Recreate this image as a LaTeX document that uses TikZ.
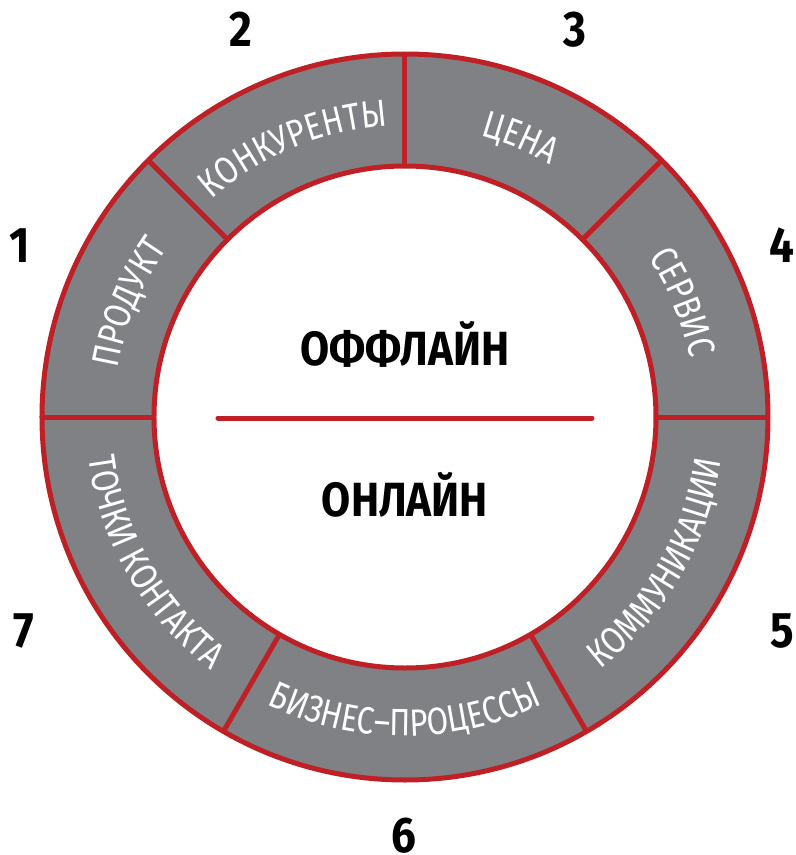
\documentclass[tikz,border=0pt]{standalone}
\usepackage{fontspec}
\setmainfont{Fira Sans}[FakeStretch=0.88]
\newfontfamily\segfont{Fira Sans}[FakeStretch=0.82]
\usetikzlibrary{decorations.text}
\definecolor{ringred}{RGB}{190,32,38}
\definecolor{ringgray}{RGB}{128,129,133}
\begin{document}
\begin{tikzpicture}[x=1pt,y=1pt,
  segline/.style={ringred, line width=5pt},
  num/.style={font=\fontsize{50}{50}\selectfont\bfseries, text=black, inner sep=0pt, anchor=base},
  bigtext/.style={font=\fontsize{48}{48}\selectfont\bfseries, text=black, inner sep=0pt, anchor=base},
  curvtext/.style={decorate, decoration={text along path, text align=center, text color=white,
     text={|\segfont\fontsize{38}{38}\selectfont|#1}}}]
\useasboundingbox (-405,-438) rectangle (391,417);
% ring
\fill[ringgray, even odd rule] (0,0) circle[radius=363] (0,0) circle[radius=251];
\foreach \a in {90,45,0,-60,-120,180,135} \draw[segline] (\a:251) -- (\a:363);
\draw[segline] (0,0) circle[radius=363];
\draw[segline] (0,0) circle[radius=251];
% segment labels (upper half: clockwise, tops outward)
\path[curvtext=ПРОДУКТ] (180:291) arc[start angle=180, end angle=135, radius=291];
\path[curvtext=КОНКУРЕНТЫ] (135:291) arc[start angle=135, end angle=90, radius=291];
\path[curvtext=ЦЕНА] (90:291) arc[start angle=90, end angle=45, radius=291];
\path[curvtext=СЕРВИС] (45:291) arc[start angle=45, end angle=0, radius=291];
% lower half: counterclockwise, tops inward
\path[curvtext=ТОЧКИ КОНТАКТА] (180:319) arc[start angle=180, end angle=240, radius=319];
\path[curvtext=БИЗНЕС–ПРОЦЕССЫ] (240:319) arc[start angle=240, end angle=300, radius=319];
\path[curvtext=КОММУНИКАЦИИ] (300:319) arc[start angle=300, end angle=360, radius=319];
% centre
\node[bigtext] (off) at (0,52) {ОФФЛАЙН};
\node[bigtext] (on) at (0,-99) {ОНЛАЙН};
\coordinate (la) at (-187,-1);
\coordinate (lb) at (187,-1);
\draw[ringred, line width=5pt, line cap=round] (la) -- (lb);
% numbers
\node[num] (n1) at (-385,155) {1};
\node[num] (n2) at (-164,370) {2};
\node[num] (n3) at (170,370) {3};
\node[num] (n4) at (377,155) {4};
\node[num] (n5) at (377,-230) {5};
\node[num] (n6) at (-1,-435) {6};
\node[num] (n7) at (-381,-230) {7};
\end{tikzpicture}
\end{document}
